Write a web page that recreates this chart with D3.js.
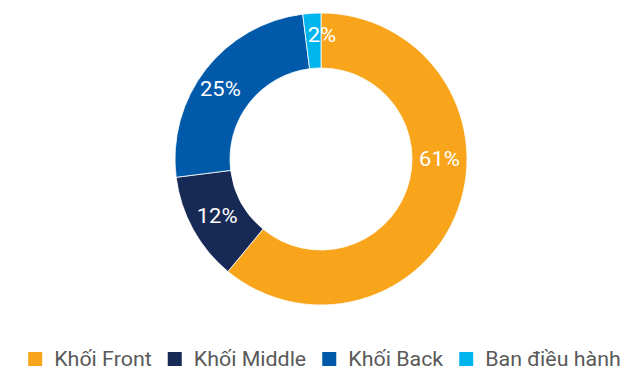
<!DOCTYPE html>
<html>
<head>
<meta charset="utf-8">
<script src="https://cdn.jsdelivr.net/npm/d3@7/dist/d3.min.js"></script>
<style>
  html, body { margin: 0; padding: 0; background: #ffffff; }
  svg { display: block; font-family: Roboto, "Noto Sans", sans-serif; }
</style>
</head>
<body>
<svg id="chart" width="627" height="372"></svg>
<script>
// Staff distribution by division (percent)
const categories = ["Khối Front", "Khối Middle", "Khối Back", "Ban điều hành"];
const values = [61, 12, 25, 2];
const colors = ["#F8A51C", "#172A55", "#0059A9", "#00B5EE"];

const svg = d3.select("#chart");
const cx = 321, cy = 159;
const outerR = 146, innerR = 91;

const pie = d3.pie().sort(null).value(d => d.value);
const arcs = pie(categories.map((c, i) => ({ name: c, value: values[i], color: colors[i] })));

const arc = d3.arc().innerRadius(innerR).outerRadius(outerR);

const g = svg.append("g").attr("transform", `translate(${cx},${cy})`);

g.selectAll("path.slice")
  .data(arcs)
  .join("path")
  .attr("class", "slice")
  .attr("d", arc)
  .attr("fill", d => d.data.color)
  .attr("stroke", "#ffffff")
  .attr("stroke-width", 0.8);

// Data labels: placed along the ring's mid radius, some nudged for readability
const labelR = (innerR + outerR) / 2;
const angleNudge = { "Khối Front": -19.8 * Math.PI / 180, "Ban điều hành": 4.0 * Math.PI / 180, "Khối Back": -3 * Math.PI / 180 };
const radiusNudge = { "Ban điều hành": 6, "Khối Back": 4 };

g.selectAll("text.value")
  .data(arcs)
  .join("text")
  .attr("class", "value")
  .each(function(d) {
    const a = (d.startAngle + d.endAngle) / 2 + (angleNudge[d.data.name] || 0);
    const r = labelR + (radiusNudge[d.data.name] || 0);
    d3.select(this)
      .attr("transform", `translate(${r * Math.sin(a)},${-r * Math.cos(a)}) scale(1.1,1)`);
  })
  .attr("text-anchor", "middle")
  .attr("dominant-baseline", "central")
  .attr("fill", "#ffffff")
  .attr("font-size", 20)
  .text(d => d.data.value + "%");

// Legend along the bottom
const legend = svg.append("g").attr("class", "legend");
const sq = 14, textGap = 12, itemGap = 16, stretch = 1.07;
const items = legend.selectAll("g.item")
  .data(categories)
  .join("g")
  .attr("class", "item");

items.append("rect")
  .attr("width", sq).attr("height", sq)
  .attr("y", 352)
  .attr("fill", (d, i) => colors[i]);

items.append("text")
  .attr("fill", "#595959")
  .attr("font-size", 20)
  .text(d => d);

let xPos = 0;
const offsets = [];
items.each(function() {
  const w = d3.select(this).select("text").node().getComputedTextLength() * stretch;
  offsets.push(xPos);
  xPos += sq + textGap + w + itemGap;
});
const total = xPos - itemGap;
const startX = 324.5 - total / 2;
items.each(function(d, i) {
  const it = d3.select(this);
  it.select("rect").attr("x", startX + offsets[i]);
  it.select("text")
    .attr("transform", `translate(${startX + offsets[i] + sq + textGap},366) scale(${stretch},1)`);
});
</script>
</body>
</html>
